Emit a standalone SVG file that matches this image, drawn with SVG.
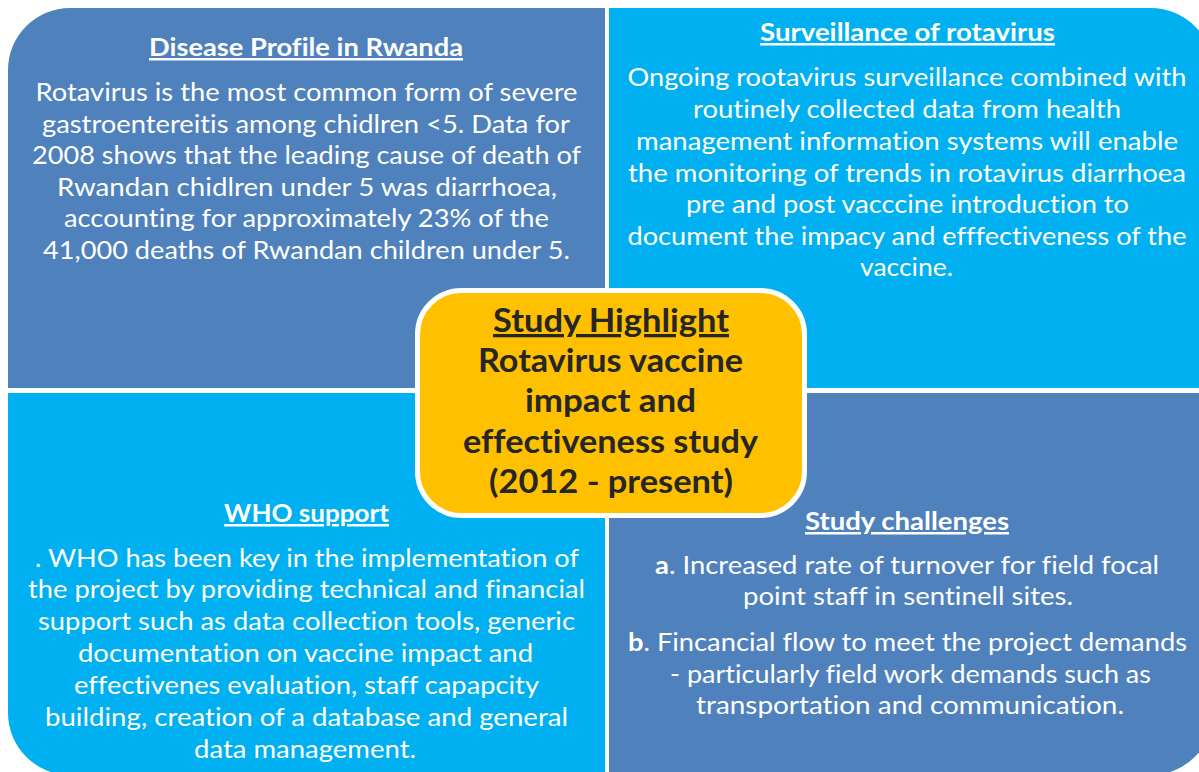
<svg xmlns="http://www.w3.org/2000/svg" width="1199" height="772" viewBox="0 0 1199 772">
<style>
.dark{fill:#4F81BD}
.light{fill:#00B0F0}
.t{font-family:Lato,"Open Sans","Liberation Sans",sans-serif;font-size:25px;fill:#FFFFFF;text-anchor:middle;font-variant-ligatures:none}
.h{font-weight:bold;text-decoration:underline}
.c{font-family:Lato,"Open Sans","Liberation Sans",sans-serif;font-size:33px;font-weight:bold;fill:#262626;text-anchor:middle;font-variant-ligatures:none}
</style>
<rect width="1199" height="772" fill="#FFFFFF"/>
<g id="disease-profile">
<path class="dark" d="M8,388 V70 A62,62 0 0 1 70,8 H605 V388 Z"/>
<text class="t h" x="306" y="56" textLength="314" lengthAdjust="spacingAndGlyphs">Disease Profile in Rwanda</text>
<text class="t" x="306.5" y="101" textLength="542" lengthAdjust="spacingAndGlyphs">Rotavirus is the most common form of severe</text>
<text class="t" x="306" y="133" textLength="528" lengthAdjust="spacingAndGlyphs">gastroentereitis among chidlren &lt;5. Data for</text>
<text class="t" x="306.5" y="164" textLength="549" lengthAdjust="spacingAndGlyphs">2008 shows that the leading cause of death of</text>
<text class="t" x="307" y="195.5" textLength="500" lengthAdjust="spacingAndGlyphs">Rwandan chidlren under 5 was diarrhoea,</text>
<text class="t" x="306.5" y="227" textLength="485" lengthAdjust="spacingAndGlyphs">accounting for approximately 23% of the</text>
<text class="t" x="306.5" y="258.5" textLength="527" lengthAdjust="spacingAndGlyphs">41,000 deaths of Rwandan children under 5.</text>
</g>
<g id="surveillance">
<path class="light" d="M609,8 H1151 A62,62 0 0 1 1213,70 V388 H609 Z"/>
<text class="t h" x="907.5" y="41" textLength="295" lengthAdjust="spacingAndGlyphs">Surveillance of rotavirus</text>
<text class="t" x="907" y="85.5" textLength="559" lengthAdjust="spacingAndGlyphs">Ongoing rootavirus surveillance combined with</text>
<text class="t" x="907" y="118" textLength="428" lengthAdjust="spacingAndGlyphs">routinely collected data from health</text>
<text class="t" x="907" y="150" textLength="542" lengthAdjust="spacingAndGlyphs">management information systems will enable</text>
<text class="t" x="907" y="181.5" textLength="558" lengthAdjust="spacingAndGlyphs">the monitoring of trends in rotavirus diarrhoea</text>
<text class="t" x="907.5" y="212.5" textLength="443" lengthAdjust="spacingAndGlyphs">pre and post vacccine introduction to</text>
<text class="t" x="907" y="244.5" textLength="559" lengthAdjust="spacingAndGlyphs">document the impacy and efffectiveness of the</text>
<text class="t" x="906.5" y="276" textLength="93" lengthAdjust="spacingAndGlyphs">vaccine.</text>
</g>
<g id="who-support">
<path class="light" d="M8,393 H605 V775 H70 A62,62 0 0 1 8,713 Z"/>
<text class="t h" x="306.5" y="522" textLength="165" lengthAdjust="spacingAndGlyphs">WHO support</text>
<text class="t" x="307" y="566.5" textLength="544" lengthAdjust="spacingAndGlyphs">. WHO has been key in the implementation of</text>
<text class="t" x="306.5" y="598" textLength="557" lengthAdjust="spacingAndGlyphs">the project by providing technical and financial</text>
<text class="t" x="306.5" y="630" textLength="537" lengthAdjust="spacingAndGlyphs">support such as data collection tools, generic</text>
<text class="t" x="305.5" y="662" textLength="455" lengthAdjust="spacingAndGlyphs">documentation on vaccine impact and</text>
<text class="t" x="306.5" y="694" textLength="465" lengthAdjust="spacingAndGlyphs">effectivenes evaluation, staff capapcity</text>
<text class="t" x="306.5" y="725.5" textLength="523" lengthAdjust="spacingAndGlyphs">building, creation of a database and general</text>
<text class="t" x="305" y="757.5" textLength="222" lengthAdjust="spacingAndGlyphs">data management.</text>
</g>
<g id="study-challenges">
<path class="dark" d="M609,393 H1213 V713 A62,62 0 0 1 1151,775 H609 Z"/>
<text class="t h" x="907" y="530" textLength="204" lengthAdjust="spacingAndGlyphs">Study challenges</text>
<text class="t" x="907" y="573.5" textLength="504" lengthAdjust="spacingAndGlyphs"><tspan font-weight="bold">a</tspan>. Increased rate of turnover for field focal</text>
<text class="t" x="908" y="605" textLength="330" lengthAdjust="spacingAndGlyphs">point staff in sentinell sites.</text>
<text class="t" x="907.5" y="651" textLength="559" lengthAdjust="spacingAndGlyphs"><tspan font-weight="bold">b</tspan>. Fincancial flow to meet the project demands</text>
<text class="t" x="910.5" y="683" textLength="481" lengthAdjust="spacingAndGlyphs">- particularly field work demands such as</text>
<text class="t" x="910" y="714" textLength="428" lengthAdjust="spacingAndGlyphs">transportation and communication.</text>
</g>
<g id="study-highlight">
<rect x="417.5" y="290.5" width="387" height="225" rx="44" ry="44" fill="#FFC000" stroke="#FFFFFF" stroke-width="5"/>
<text class="c" x="611" y="332" text-decoration="underline" textLength="236" lengthAdjust="spacingAndGlyphs">Study Highlight</text>
<text class="c" x="610.5" y="372" textLength="265" lengthAdjust="spacingAndGlyphs">Rotavirus vaccine</text>
<text class="c" x="610.5" y="412" textLength="171" lengthAdjust="spacingAndGlyphs">impact and</text>
<text class="c" x="610.5" y="453" textLength="295" lengthAdjust="spacingAndGlyphs">effectiveness study</text>
<text class="c" x="611" y="493" textLength="244" lengthAdjust="spacingAndGlyphs">(2012 - present)</text>
</g>
<g id="connectors"></g>
</svg>
